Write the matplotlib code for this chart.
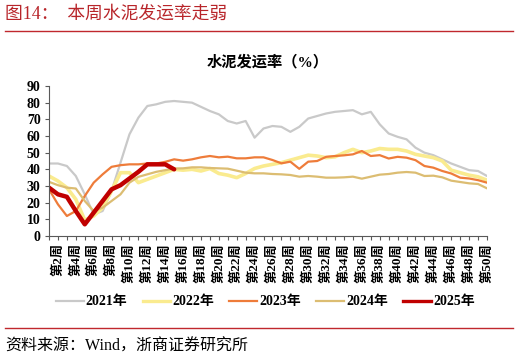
import matplotlib.pyplot as plt
from matplotlib.lines import Line2D

plt.rcParams['font.family'] = ['Liberation Serif', 'Noto Sans CJK SC', 'DejaVu Sans']

weeks = list(range(1, 51))
week_labels = [f"第{w}周" if w % 2 == 0 else "" for w in weeks]

s2021 = [43.5, 43.5, 42, 36, 25, 13, 15, 27, 44, 61,
         71, 78, 79, 80.5, 81, 80.5, 80, 77.5, 75, 73,
         69, 67.5, 69, 59, 64.5, 66, 65.5, 62.5, 65.5, 70.5,
         72, 73.5, 74.5, 75, 75.5, 73, 74.5, 67, 61.5, 59.5,
         58, 53, 50, 48.5, 46, 43.5, 41.5, 39.5, 39, 36]
s2022 = [36, 33, 29, 22, 9.5, 12, 17, 27, 38, 38,
         32, 34, 36, 38, 40, 39.5, 40, 39, 40.5, 37.5,
         36.5, 35, 37.5, 40.5, 42, 43, 44, 45.5, 47, 48.5,
         48, 47, 47.5, 50, 52, 50, 51, 52.5, 52, 52,
         51, 49, 48, 47, 45, 39.5, 38, 36.5, 35.5, 33.5]
s2023 = [28, 19, 12, 15, 24, 32, 37, 41.5, 42.5, 43,
         43, 43.5, 43.5, 44.5, 46, 45.2, 46, 47.2, 48, 47.2,
         47.6, 46.6, 46.6, 47.2, 47.2, 45.6, 43.6, 44.6, 40.3, 44.6,
         45, 47.5, 48, 48.4, 49, 51, 48, 48.5, 46.5, 47.5,
         47, 45.5, 42, 41, 39, 37.5, 35, 34.5, 33.5, 32]
s2024 = [32.5, 30.5, 29, 28.5, 21, 15, 17, 21, 25, 32,
         35.5, 37, 38.5, 39.5, 40.5, 40.6, 41.2, 41.2, 40.8, 40.6,
         40.4, 39.2, 38, 37.6, 37.6, 37.2, 37, 36.6, 35.6, 36,
         35.6, 35, 35, 35.2, 35.6, 34.4, 35.6, 36.8, 37.2, 38,
         38.4, 38, 36, 36.2, 35.2, 33.2, 32.4, 31.6, 31.2, 28.6]
s2025 = [29, 25, 23.5, 15, 7, 14, 21, 28, 30.5, 34.5,
         38.5, 43, 43, 43, 40]

series = [
    ("2021年", s2021, "#C9C9C9", 1.6),
    ("2022年", s2022, "#FAEB8F", 2.6),
    ("2023年", s2023, "#EE7C3A", 1.6),
    ("2024年", s2024, "#DCBD72", 1.6),
    ("2025年", s2025, "#C00000", 3.2),
]

fig = plt.figure(figsize=(5.2, 3.6), dpi=100)
ax = fig.add_axes([49 / 520, 1 - 236 / 360, 438 / 520, 150 / 360])

for name, vals, color, lw in series:
    ax.plot(weeks[:len(vals)], vals, color=color, lw=lw, label=name,
            solid_joinstyle="round", solid_capstyle="round")

ax.set_xlim(1, 50)
ax.set_ylim(0, 90)
ax.set_yticks(range(0, 91, 10))
ax.set_yticklabels([str(v) for v in range(0, 91, 10)], fontsize=10, fontweight="bold")
ax.set_xticks(weeks)
ax.set_xticklabels(week_labels, rotation=90, fontsize=9.5, fontweight="bold")
ax.tick_params(axis="x", length=3, width=0.8, color="#595959", pad=2)
ax.tick_params(axis="y", length=3, width=0.8, color="#595959", pad=3)
for side in ["top", "right"]:
    ax.spines[side].set_visible(False)
for side in ["left", "bottom"]:
    ax.spines[side].set_color("#595959")
    ax.spines[side].set_linewidth(0.8)

ax.set_title("水泥发运率（%）", fontsize=11, fontweight="bold", pad=14)

handles = [Line2D([0], [0], color=c, lw=min(lw, 2.4)) for _, _, c, lw in series]
fig.legend(handles, [s[0] for s in series], loc="center", ncol=5,
           bbox_to_anchor=(0.51, 1 - 302 / 360), frameon=False,
           prop={"size": 10, "weight": "bold"}, handlelength=2.0,
           handletextpad=0.15, columnspacing=1.1)

# 标题和来源
fig.text(0.01, 1 - 14 / 360, "图14：  本周水泥发运率走弱", color="#B8252A",
         fontsize=12.8, va="center", ha="left")
fig.add_artist(Line2D([5 / 520, 513 / 520], [1 - 31 / 360, 1 - 31 / 360],
                      color="#C0282D", lw=1.0))
fig.add_artist(Line2D([5 / 520, 513 / 520], [1 - 328 / 360, 1 - 328 / 360],
                      color="#C0282D", lw=1.0))
fig.text(0.01, 1 - 347 / 360, "资料来源：Wind，浙商证券研究所", color="black",
         fontsize=11.5, va="center", ha="left")

fig.savefig("out.png", dpi=100)
